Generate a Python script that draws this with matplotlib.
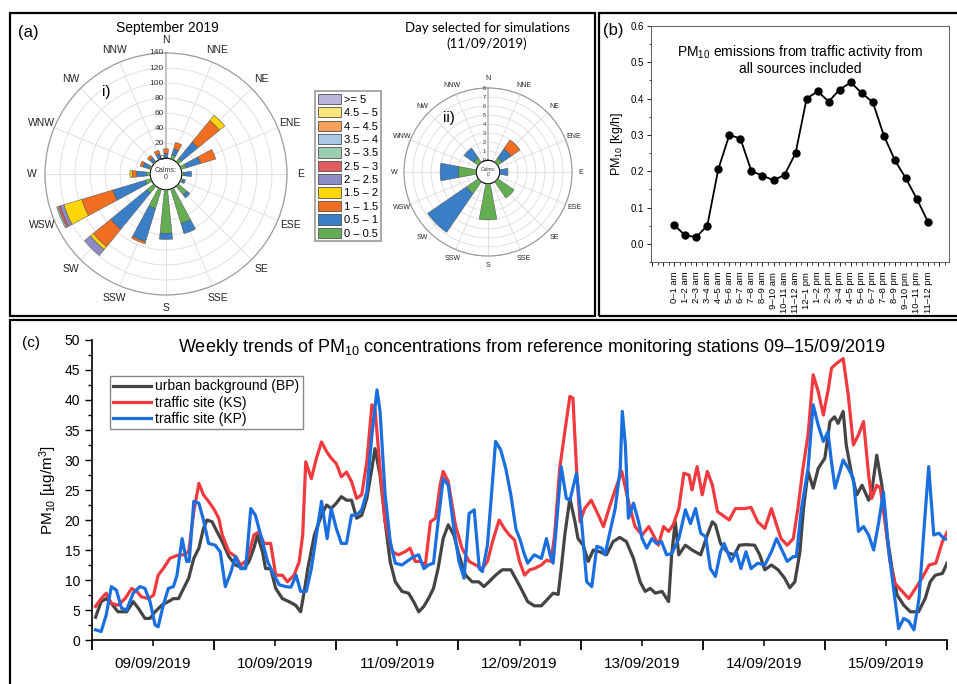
import matplotlib
matplotlib.use("Agg")
import matplotlib.pyplot as plt
import numpy as np
from matplotlib.patches import Patch, Rectangle
from matplotlib import transforms

plt.rcParams["font.family"] = ["Liberation Sans", "DejaVu Sans"]
plt.rcParams["mathtext.fontset"] = "custom"
plt.rcParams["mathtext.rm"] = "Liberation Sans"
plt.rcParams["mathtext.it"] = "Liberation Sans:italic"
plt.rcParams["mathtext.bf"] = "Liberation Sans:bold"

# ---------------------------------------------------------------- data
DIRS = ["N", "NNE", "NE", "ENE", "E", "ESE", "SE", "SSE",
        "S", "SSW", "SW", "WSW", "W", "WNW", "NW", "NNW"]
SPEED_BINS = ["0 – 0.5", "0.5 – 1", "1 – 1.5", "1.5 – 2", "2 – 2.5", "2.5 – 3",
              "3 – 3.5", "3.5 – 4", "4 – 4.5", "4.5 – 5", ">= 5"]
BIN_COLORS = ["#64ad52", "#3a7ec6", "#f06d22", "#fdd508", "#8d8cc6", "#e05c5e",
              "#9ccdb0", "#a8c8e6", "#f7a05c", "#fae57c", "#bdb5dc"]

# (i) September 2019, counts per direction for each speed bin
rose_sep = [
    [0.5, 6, 6, 7, 3, 3, 15, 48, 58, 27, 12, 8, 5, 3, 2, 1],     # 0-0.5
    [6, 8, 28, 20, 10, 3, 5, 14, 8, 46, 62, 45, 13, 8, 5, 6],   # 0.5-1
    [6, 9, 37, 21, 0, 0, 0, 0, 0, 3, 30, 43, 6, 4, 4, 5],       # 1-1.5
    [0, 0, 9, 0, 0, 0, 0, 0, 0, 0, 5, 25, 3, 0, 0, 0],          # 1.5-2
    [0, 0, 0, 0, 0, 0, 0, 0, 0, 0, 10, 5, 0, 0, 0, 0],          # 2-2.5
    [0, 0, 0, 0, 0, 0, 0, 0, 0, 0, 0, 3, 0, 0, 0, 0],           # 2.5-3
    [0, 0, 0, 0, 0, 0, 0, 0, 0, 0, 0, 2, 0, 0, 0, 0],           # 3-3.5
]
# (ii) 11/09/2019
rose_day = [
    [0, 0, 0.6, 0, 0, 0, 2.2, 0, 4.0, 0, 1.6, 0, 2.0, 0, 0.6, 0],
    [0, 0, 1.2, 0, 0.9, 0, 0, 0, 0, 0, 5.2, 0, 2.0, 0, 1.3, 0],
    [0, 0, 1.2, 0, 0, 0, 0, 0, 0, 0, 0, 0, 0, 0, 0, 0],
]

# (b) hourly PM10 emissions [kg/h]
hour_labels = ["0–1 am", "1–2 am", "2–3 am", "3–4 am", "4–5 am", "5–6 am",
               "6–7 am", "7–8 am", "8–9 am", "9–10 am", "10–11 am", "11–12 am",
               "12–1 pm", "1–2 pm", "2–3 pm", "3–4 pm", "4–5 pm", "5–6 pm",
               "6–7 pm", "7–8 pm", "8–9 pm", "9–10 pm", "10–11 pm", "11–12 pm"]
emissions = [0.052, 0.023, 0.019, 0.050, 0.206, 0.300, 0.290, 0.200, 0.188,
             0.175, 0.190, 0.250, 0.400, 0.420, 0.392, 0.425, 0.445, 0.415,
             0.390, 0.298, 0.230, 0.180, 0.123, 0.060]

# (c) PM10 concentrations, hours since 09/09/2019 00:00
bp_hours = [0.7, 1.8, 2.8, 3.8, 5.1, 6.8, 8.1, 9.1, 10.4, 11.4, 12.4, 13.7, 15.0,
            16.0, 17.0, 17.7, 19.0, 20.0, 21.0, 21.9, 22.6, 23.6, 24.6, 25.6,
            26.9, 28.2, 29.8, 30.8, 31.8, 32.5, 33.5, 34.1, 35.1, 36.1, 37.4,
            38.7, 40.0, 41.0, 41.8, 42.4, 43.7, 45.1, 46.1, 47.0, 48.0, 49.0,
            50.0, 51.0, 52.0, 53.0, 54.0, 55.0, 55.6, 56.6, 57.6, 58.6, 59.6,
            60.9, 62.2, 63.2, 64.2, 65.2, 66.1, 67.1, 68.0, 69.0, 70.0, 71.1,
            72.1, 73.4, 74.7, 76.0, 77.0, 78.0, 79.3, 80.6, 82.3, 83.6, 84.6,
            85.6, 86.9, 88.3, 89.6, 90.6, 91.6, 92.2, 92.9, 93.9, 94.9, 95.5,
            96.5, 97.5, 98.5, 99.8, 101.1, 102.4, 103.7, 105.0, 106.4, 107.7,
            108.7, 109.7, 110.7, 112.0, 113.3, 113.9, 114.6, 115.3, 116.6,
            117.9, 119.6, 120.9, 121.9, 122.5, 123.5, 125.0, 126.2, 127.2,
            128.5, 130.2, 131.2, 132.2, 133.5, 134.8, 136.1, 137.1, 138.1,
            139.1, 139.8, 140.7, 141.7, 142.7, 144.0, 145.0, 145.9, 146.6,
            147.6, 148.2, 149.3, 150.3, 151.3, 152.6, 153.2, 154.2, 155.2,
            156.2, 157.2, 158.2, 159.5, 160.8, 162.4, 163.7, 164.7, 165.7,
            167.1, 168.0]
bp_vals = [3.8, 6.4, 6.9, 6.1, 4.7, 4.7, 6.4, 5.3, 3.6, 3.6, 4.7, 5.8, 6.4,
           6.9, 6.9, 8.1, 10.3, 13.6, 15.3, 18.6, 20.0, 19.7, 18.0, 16.4,
           13.9, 12.5, 11.9, 13.0, 15.3, 17.5, 14.7, 11.9, 11.9, 8.6, 6.9,
           6.4, 5.8, 4.7, 8.6, 11.9, 17.5, 20.8, 22.5, 21.9, 22.8, 23.9,
           23.3, 23.3, 20.3, 20.8, 23.6, 28.6, 31.9, 27.5, 19.7, 13.0, 9.7,
           8.1, 7.8, 6.4, 4.7, 5.6, 6.9, 8.6, 11.9, 16.9, 19.2, 17.5,
           14.2, 10.8, 9.7, 9.7, 8.9, 9.7, 10.8, 11.7, 11.7, 9.7, 8.1,
           6.4, 5.7, 5.7, 6.9, 7.8, 7.6, 11.9, 17.5, 23.6, 19.7, 16.9,
           15.8, 13.1, 15.0, 14.7, 14.2, 16.4, 17.1, 16.4, 13.6, 9.7,
           8.1, 8.6, 7.8, 8.1, 6.4, 14.2, 19.7, 14.2, 15.8,
           15.0, 14.2, 17.5, 19.7, 19.2, 16.1, 14.5, 14.2, 15.8,
           15.9, 15.8, 14.2, 11.7, 12.5, 11.7, 10.3, 8.7, 9.7,
           14.7, 21.9, 28.1, 25.3, 28.6, 30.3, 36.4, 37.2, 36.1,
           38.1, 32.5, 27.5, 24.2, 25.8, 23.3, 24.7, 30.8, 25.8,
           17.5, 11.9, 7.5, 5.8, 4.7, 4.7, 6.9, 9.7, 10.8,
           11.1, 12.8]

ks_hours = [0.7, 1.8, 2.8, 3.8, 5.1, 6.5, 7.8, 8.8, 9.7, 11.1, 12.1, 13.0, 14.0,
            15.3, 16.7, 18.0, 19.0, 20.0, 21.0, 21.9, 22.9, 23.9, 24.9, 25.6,
            26.9, 28.2, 29.2, 30.2, 30.8, 31.8, 32.8, 33.8, 35.1, 36.1, 37.4,
            38.4, 39.7, 40.7, 41.4, 42.0, 43.1, 44.1, 45.1, 46.1, 47.0, 48.0,
            49.0, 50.0, 51.0, 52.0, 53.0, 54.0, 55.0, 55.6, 56.6, 57.6, 59.0,
            60.2, 61.5, 62.5, 63.5, 64.5, 65.5, 66.5, 67.5, 68.4, 69.0, 70.0,
            71.4, 72.7, 74.1, 75.4, 76.7, 77.7, 78.7, 80.0, 81.0, 82.0, 83.0,
            84.0, 85.0, 86.0, 86.9, 88.3, 89.3, 90.2, 90.9, 91.9, 92.9, 93.9,
            94.5, 95.2, 95.9, 96.8, 98.1, 99.5, 100.5, 101.8, 102.8, 104.1,
            105.4, 106.7, 108.1, 109.4, 110.3, 111.3, 112.3, 113.3, 114.2,
            115.3, 116.3, 117.3, 117.9, 118.9, 119.9, 120.9, 121.9, 122.9,
            123.9, 125.2, 126.4, 128.2, 129.5, 130.8, 132.2, 133.5, 134.5,
            135.4, 136.6, 137.8, 138.7, 139.7, 140.7, 141.7, 142.7, 143.7,
            144.7, 145.3, 146.3, 147.6, 148.6, 149.6, 150.6, 151.6, 152.6,
            153.2, 154.2, 154.9, 155.8, 156.8, 157.8, 159.2, 160.5, 161.8,
            163.1, 164.5, 165.8, 167.1, 168.0]
ks_vals = [5.6, 6.9, 7.8, 6.1, 5.8, 6.9, 8.6, 8.1, 7.2, 6.9, 7.5, 10.8, 11.9,
           13.6, 14.1, 14.2, 14.7, 21.4, 26.1, 24.2, 23.1, 21.9, 20.3, 17.5,
           14.7, 13.9, 12.5, 13.1, 14.2, 17.5, 18.0, 16.1, 16.1, 10.8, 10.8,
           9.7, 10.8, 13.0, 17.5, 29.7, 26.9, 30.3, 33.0, 31.4, 30.3, 29.4,
           27.2, 28.0, 26.4, 23.6, 24.2, 29.7, 39.2, 38.6, 28.6, 19.7, 14.7,
           14.2, 14.7, 15.3, 13.1, 13.1, 12.5, 19.7, 20.3, 25.8, 28.1, 26.4,
           19.2, 15.3, 13.1, 12.5, 11.9, 13.1, 16.4, 20.0, 18.6, 17.5, 16.7,
           13.1, 10.8, 11.7, 11.9, 12.5, 13.3, 13.1, 17.5, 28.6, 34.7, 40.6,
           40.3, 28.6, 19.7, 21.9, 23.3, 20.8, 18.9, 22.5, 25.0, 28.1,
           23.1, 18.9, 17.5, 18.9, 17.5, 15.8, 18.9, 18.1, 19.2,
           21.9, 27.8, 27.5, 25.0, 28.9, 24.2, 28.1, 25.8, 21.4,
           20.8, 20.0, 21.9, 21.9, 22.1, 19.7, 18.6, 21.9, 19.2,
           16.9, 15.8, 16.9, 21.9, 28.6, 34.2, 44.2, 41.4, 37.5,
           41.9, 45.3, 46.1, 46.9, 40.8, 32.5, 34.2, 36.4, 27.5,
           23.6, 25.8, 25.3, 19.7, 13.1, 9.4, 8.1, 6.9, 8.6,
           10.3, 12.5, 12.8, 16.4, 17.9]

kp_hours = [0.7, 1.8, 2.8, 3.8, 4.8, 5.8, 6.8, 8.1, 9.4, 10.4, 11.4, 12.4, 13.0,
            14.0, 15.0, 16.0, 16.7, 17.7, 18.6, 19.1, 20.0, 21.0, 21.9, 22.9,
            24.2, 25.2, 26.2, 27.2, 28.2, 29.2, 30.2, 31.2, 32.1, 33.5, 34.5,
            35.4, 36.8, 38.1, 39.1, 40.1, 41.0, 42.1, 43.1, 44.1, 45.1, 45.7,
            46.2, 47.0, 48.0, 49.0, 50.0, 51.0, 52.0, 53.0, 54.0, 55.0, 56.0,
            56.6, 57.6, 58.6, 59.6, 60.9, 61.9, 63.2, 64.2, 65.2, 66.1, 67.1,
            68.0, 69.0, 70.0, 71.1, 72.1, 73.1, 74.1, 75.1, 76.1, 76.7, 77.7,
            78.7, 79.3, 80.3, 81.3, 82.3, 83.3, 84.2, 84.8, 85.6, 86.9, 88.3,
            89.3, 90.0, 90.6, 91.2, 92.2, 93.2, 93.9, 95.2, 96.2, 97.2, 98.2,
            99.2, 100.2, 100.8, 101.8, 102.8, 103.8, 104.2, 104.8, 105.4,
            106.4, 107.4, 108.1, 109.0, 110.0, 110.9, 111.9, 112.9, 113.9,
            115.3, 116.6, 117.6, 118.6, 119.6, 120.6, 121.5, 122.5, 123.5,
            124.2, 125.6, 126.6, 127.5, 128.5, 129.5, 130.8, 132.2, 133.5,
            134.5, 135.4, 136.6, 137.8, 138.4, 139.4, 140.7, 141.7, 142.7,
            143.7, 144.6, 145.3, 146.0, 147.6, 148.6, 149.6, 150.6, 151.6,
            152.6, 153.6, 154.6, 155.5, 156.5, 157.5, 158.5, 159.5, 160.5,
            161.5, 162.5, 163.4, 164.4, 165.4, 166.4, 167.4, 168.0]
kp_vals = [1.7, 1.4, 4.2, 8.9, 8.3, 5.3, 5.0, 7.8, 8.9, 8.6, 6.4, 2.5, 2.2,
           5.8, 8.6, 8.9, 10.8, 16.9, 13.1, 13.1, 23.1, 22.8, 20.0, 16.1,
           15.8, 14.7, 8.9, 11.1, 13.9, 11.9, 11.9, 21.9, 20.8, 16.4, 13.1,
           11.4, 9.2, 8.9, 8.8, 10.8, 8.1, 8.1, 11.9, 17.5, 23.1, 19.7,
           16.9, 21.9, 18.6, 16.1, 16.1, 20.8, 20.8, 21.7, 24.7, 34.2, 41.7,
           38.1, 24.2, 16.4, 12.8, 12.5, 13.1, 13.9, 14.2, 11.9, 12.5, 12.8,
           19.7, 26.9, 25.8, 18.6, 13.1, 10.3, 21.1, 21.7, 11.9, 11.4, 15.8,
           26.4, 33.1, 31.7, 28.6, 24.2, 18.5, 16.5, 14.7, 12.8, 14.2, 13.6,
           16.9, 14.2, 12.8, 18.6, 28.9, 23.6, 23.3, 27.8, 19.7, 9.7, 8.9,
           15.6, 15.3, 14.2, 18.1, 21.9, 28.6, 38.1, 32.5, 20.3,
           22.8, 19.7, 16.9, 15.3, 16.9, 16.1, 16.4, 14.2, 14.4,
           16.9, 21.7, 19.4, 21.9, 17.8, 17.2, 11.9, 10.6, 14.7,
           16.1, 13.1, 14.7, 11.9, 14.7, 11.9, 12.8, 12.5, 14.7,
           16.9, 15.3, 13.1, 13.9, 13.9, 21.9, 28.6, 39.2, 35.8,
           33.1, 34.7, 29.7, 25.3, 30.0, 28.6, 26.9, 18.1, 18.9,
           17.5, 15.0, 19.7, 24.7, 15.3, 8.6, 1.9, 3.6, 3.1,
           1.7, 6.9, 17.5, 28.9, 17.5, 17.8, 16.9, 16.8]

day_labels = ["09/09/2019", "10/09/2019", "11/09/2019", "12/09/2019",
              "13/09/2019", "14/09/2019", "15/09/2019"]

# ---------------------------------------------------------------- layout
W, H = 957, 684
fig = plt.figure(figsize=(W / 100, H / 100), dpi=100)


def rect(l, t, r, b):
    return [l / W, 1 - b / H, (r - l) / W, (b - t) / H]


# panel frames
for l, t, r, b in [(10, 13, 595, 316), (599, 13, 960, 316), (10, 320, 960, 690)]:
    fig.patches.append(Rectangle((l / W, 1 - b / H), (r - l) / W, (b - t) / H,
                                 transform=fig.transFigure, fill=False,
                                 edgecolor="black", linewidth=1.6))


def wind_rose(box, data, rmax, step, width, rorigin, lab_fs, tick_fs, calm_fs):
    ax = fig.add_axes(rect(*box), projection="polar")
    ax.set_theta_zero_location("N")
    ax.set_theta_direction(-1)
    theta = np.deg2rad(np.arange(16) * 22.5)
    bottom = np.zeros(16)
    for vals, col in zip(data, BIN_COLORS):
        vals = np.asarray(vals, dtype=float)
        m = vals > 0
        ax.bar(theta[m], vals[m], width=width, bottom=bottom[m], color=col,
               edgecolor="#505050", linewidth=0.35, zorder=3)
        bottom += vals
    ax.set_ylim(0, rmax)
    ax.set_rorigin(rorigin)
    ax.set_xticks(theta)
    ax.set_xticklabels([])
    ax.set_yticks(np.arange(0, rmax, step))
    ax.set_yticklabels([])
    ax.grid(color="#dcdcdc", linewidth=0.6)
    ax.spines["polar"].set_color("#9a9a9a")
    ax.spines["polar"].set_linewidth(0.9)
    ax.plot([0, 0], [0, rmax], color="#c4c4c4", lw=1.4, zorder=2)
    off = transforms.offset_copy(ax.transData, fig=fig, x=-1.5, y=0, units="points")
    for v in np.arange(0, rmax + step / 2, step):
        ax.text(0, v, f"{v:g}", transform=off, ha="right", va="center",
                fontsize=tick_fs, color="#333333", zorder=4)
    for d, th in zip(DIRS, theta):
        ax.text(0.5 + 0.555 * np.sin(th), 0.5 + 0.555 * np.cos(th), d,
                transform=ax.transAxes, ha="center", va="center",
                fontsize=lab_fs, color="#222222")
    ax.text(0.5, 0.5, "Calms:\n0", transform=ax.transAxes, ha="center",
            va="center", fontsize=calm_fs, color="#333333", linespacing=1.1)
    return ax


wind_rose((45, 53, 287, 295), rose_sep, 140, 20, 0.2, -21, 7.5, 6, 5)
wind_rose((404, 88, 572, 256), rose_day, 8, 1, 0.37, -1.3, 5, 4, 3.5)

fig.text(18 / W, 1 - 32 / H, "(a)", fontsize=12, va="center")
fig.text(167 / W, 1 - 28 / H, "September 2019", fontsize=10, ha="center", va="center")
fig.text(487 / W, 1 - 36 / H, "Day selected for simulations\n(11/09/2019)",
         fontsize=9.5, ha="center", va="center", family=["Lato", "DejaVu Sans"],
         linespacing=1.25)
fig.text(106 / W, 1 - 92 / H, "i)", fontsize=11, ha="center", va="center")
fig.text(449 / W, 1 - 118 / H, "ii)", fontsize=11, ha="center", va="center")

handles = [Patch(facecolor=c, edgecolor="#505050", linewidth=0.6) for c in BIN_COLORS]
leg = fig.legend(handles[::-1], SPEED_BINS[::-1], loc="upper left",
                 bbox_to_anchor=(315 / W, 1 - 91 / H), fontsize=8,
                 handlelength=2.1, handleheight=1.05, labelspacing=0.22,
                 handletextpad=0.3, borderpad=0.25, borderaxespad=0,
                 fancybox=False, framealpha=1)
leg.get_frame().set_edgecolor("#999999")
leg.get_frame().set_linewidth(1.2)

# ---------------------------------------------------------------- (b)
axb = fig.add_axes(rect(651, 26, 949, 262))
xb = np.arange(len(emissions))
axb.plot(xb, emissions, color="black", lw=1.3, marker="o", ms=5)
axb.set_xlim(-2.1, 24.9)
axb.set_ylim(-0.05, 0.6)
axb.set_yticks(np.arange(0, 0.61, 0.1))
axb.set_yticks(np.arange(-0.05, 0.6, 0.05), minor=True)
axb.set_yticklabels([f"{v:.1f}" for v in np.arange(0, 0.61, 0.1)], fontsize=7)
major_x = np.arange(-2, 25)
axb.set_xticks(major_x)
axb.set_xticklabels([hour_labels[i] if 0 <= i < 24 else "" for i in major_x],
                    rotation=90, fontsize=6.8)
axb.set_xticks(np.arange(-1.5, 25, 1), minor=True)
axb.tick_params(axis="both", which="major", direction="out", length=3, width=0.6, pad=2)
axb.tick_params(axis="x", which="major", pad=4)
axb.tick_params(axis="both", which="minor", direction="out", length=1.8, width=0.5)
for s in axb.spines.values():
    s.set_linewidth(0.6)
    s.set_color("#444444")
axb.set_ylabel("PM$_{10}$ [kg/h]", fontsize=9, labelpad=4)
axb.text(0.5, 0.93, "PM$_{10}$ emissions from traffic activity from\nall sources included",
         transform=axb.transAxes, ha="center", va="top", fontsize=10, linespacing=1.15)
fig.text(603 / W, 1 - 31 / H, "(b)", fontsize=12, va="center")

# ---------------------------------------------------------------- (c)
axc = fig.add_axes(rect(92, 340, 947, 640))
axc.plot(bp_hours, bp_vals, color="#444444", lw=2.3, label="urban background (BP)")
axc.plot(ks_hours, ks_vals, color="#f03a3f", lw=2.3, label="traffic site (KS)")
axc.plot(kp_hours, kp_vals, color="#1a6fe0", lw=2.3, label="traffic site (KP)")
axc.set_xlim(0, 168)
axc.set_ylim(0, 50)
axc.set_yticks(np.arange(0, 51, 5))
axc.set_yticks(np.arange(0, 50, 2.5), minor=True)
axc.set_xticks(np.arange(0, 169, 24))
axc.set_xticklabels([])
axc.set_xticks(np.arange(12, 168, 24), minor=True)
axc.set_xticklabels(day_labels, minor=True, fontsize=11)
axc.tick_params(axis="y", which="major", direction="out", length=5, width=1, labelsize=10)
axc.tick_params(axis="y", which="minor", direction="out", length=3, width=1)
axc.tick_params(axis="x", which="major", direction="out", length=7, width=1.3)
axc.tick_params(axis="x", which="minor", direction="out", length=4, width=1.1, pad=8)
for s in ["top", "right"]:
    axc.spines[s].set_visible(False)
for s in ["left", "bottom"]:
    axc.spines[s].set_linewidth(1.2)
axc.set_ylabel("PM$_{10}$ [µg/m$^3$]", fontsize=11, labelpad=4)
leg_c = axc.legend(loc="upper left", bbox_to_anchor=(110 / W, 1 - 376 / H),
                   bbox_transform=fig.transFigure, fontsize=10, handlelength=2.7,
                   labelspacing=0.15, handletextpad=0.3, borderpad=0.25,
                   borderaxespad=0, fancybox=False, framealpha=1)
leg_c.get_frame().set_edgecolor("#888888")
fig.text(532 / W, 1 - 347 / H,
         "Weekly trends of PM$_{10}$ concentrations from reference monitoring stations 09–15/09/2019",
         fontsize=13, ha="center", va="center")
fig.text(22 / W, 1 - 343 / H, "(c)", fontsize=11, va="center")

fig.savefig("out.png", dpi=100)
